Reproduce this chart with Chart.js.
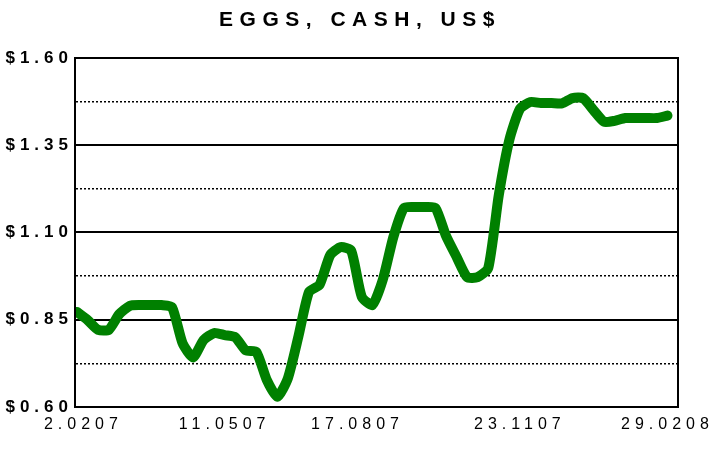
<!DOCTYPE html>
<html>
<head>
<meta charset="utf-8">
<script src="https://cdn.jsdelivr.net/npm/chart.js@4.4.1/dist/chart.umd.min.js"></script>
<style>
  html, body { margin: 0; padding: 0; background: #fff; }
  #wrap { width: 720px; height: 450px; }
</style>
</head>
<body>
<div id="wrap"><canvas id="eggChart"></canvas></div>
<script>
// weekly cash price, from 2 Feb 2007
const weeks = [0, 1, 2, 3, 4, 5, 6, 7, 8, 9, 10, 11, 12, 13, 14, 15, 16, 17, 18, 19,
    20, 21, 22, 23, 24, 25, 26, 27, 28, 29, 30, 31, 32, 33, 34, 35, 36, 37, 38, 39,
    40, 41, 42, 43, 44, 45, 46, 47, 48, 49, 50, 51, 52, 53, 54, 55, 56];
const prices = [0.872, 0.849, 0.821, 0.821, 0.866, 0.890, 0.892, 0.892, 0.892, 0.886,
    0.783, 0.742, 0.792, 0.812, 0.806, 0.800, 0.762, 0.758, 0.677, 0.629,
    0.683, 0.803, 0.930, 0.950, 1.035, 1.058, 1.048, 0.916, 0.892, 0.965,
    1.087, 1.170, 1.173, 1.173, 1.170, 1.090, 1.030, 0.972, 0.972, 0.998,
    1.207, 1.365, 1.454, 1.474, 1.471, 1.471, 1.470, 1.485, 1.485, 1.450,
    1.417, 1.420, 1.428, 1.428, 1.428, 1.428, 1.435];

const xTickPos = [0.6, 14, 26.6, 42, 56];
const xTickLabels = ['2.0207', '11.0507', '17.0807', '23.1107', '29.0208'];
const yTicks = [0.60, 0.725, 0.85, 0.975, 1.10, 1.225, 1.35, 1.475, 1.60];

const FONT = 'Liberation Sans, Arial, sans-serif';

// dotted gridlines: stroke the minor lines with a striped pattern
const dotCanvas = document.createElement('canvas');
dotCanvas.width = 4;
dotCanvas.height = 4;
const dctx = dotCanvas.getContext('2d');
dctx.fillStyle = '#000';
dctx.fillRect(0, 0, 2, 4);
const dotted = dctx.createPattern(dotCanvas, 'repeat');

// chart.js has no letter-spacing option, wrap the text drawing
function spaced(obj, method, px) {
    if (!obj || obj['_sp_' + method]) return;
    const orig = obj[method];
    obj[method] = function (...args) {
        const c = this.ctx;
        c.save();
        c.letterSpacing = px;
        orig.apply(this, args);
        c.restore();
    };
    obj['_sp_' + method] = true;
}

const frame = {
    id: 'frame',
    beforeDraw(chart) {
        spaced(chart.titleBlock, 'draw', '6.5px');
        spaced(chart.scales.x, 'drawLabels', '5px');
        spaced(chart.scales.y, 'drawLabels', '5px');
    },
    afterDraw(chart) {
        const ctx = chart.ctx, a = chart.chartArea;
        ctx.save();
        ctx.strokeStyle = '#000';
        ctx.lineWidth = 2;
        ctx.strokeRect(a.left, a.top, a.right - a.left, a.bottom - a.top);
        ctx.restore();
    }
};

const ctx = document.getElementById('eggChart').getContext('2d');
const chart = new Chart(ctx, {
    type: 'line',
    data: {
        datasets: [{
            data: weeks.map((w, i) => ({ x: w, y: prices[i] })),
            borderColor: '#008000',
            borderWidth: 10,
            borderJoinStyle: 'round',
            borderCapStyle: 'round',
            pointRadius: 0,
            tension: 0.2,
            fill: false
        }]
    },
    options: {
        responsive: true,
        maintainAspectRatio: false,
        animation: false,
        layout: { padding: 0 },
        plugins: {
            legend: { display: false },
            tooltip: { enabled: false },
            title: {
                display: true,
                text: 'EGGS, CASH, US$',
                color: '#000',
                font: { family: FONT, size: 21, weight: 'bold', lineHeight: 1.2 },
                padding: { top: 8, bottom: 24.8 }
            }
        },
        scales: {
            x: {
                type: 'linear',
                min: -0.2,
                max: 57,
                afterBuildTicks: s => { s.ticks = xTickPos.map(v => ({ value: v })); },
                afterFit: s => { s.height = 43; },
                grid: { display: false },
                border: { display: false },
                ticks: {
                    autoSkip: false,
                    maxRotation: 0,
                    padding: 0,
                    color: '#000',
                    font: { family: FONT, size: 16 },
                    callback: (v, i) => xTickLabels[i]
                }
            },
            y: {
                min: 0.6,
                max: 1.6,
                afterBuildTicks: s => { s.ticks = yTicks.map(v => ({ value: v })); },
                afterFit: s => { s.width = 75; },
                border: { display: false },
                grid: {
                    drawTicks: false,
                    color: c => (c.index % 2 === 0 ? '#000' : dotted),
                    lineWidth: c => (c.index % 2 === 0 ? 2 : 1.5)
                },
                ticks: {
                    padding: 2,
                    color: '#000',
                    font: { family: FONT, size: 17, weight: 'bold' },
                    callback: (v, i) => (i % 2 === 0 ? '$' + v.toFixed(2) : '')
                }
            },
            // empty right margin so the title centres on the full width
            yRight: {
                position: 'right',
                afterFit: s => { s.width = 42; },
                grid: { display: false },
                border: { display: false },
                ticks: { display: false }
            }
        }
    },
    plugins: [frame]
});
</script>
</body>
</html>
